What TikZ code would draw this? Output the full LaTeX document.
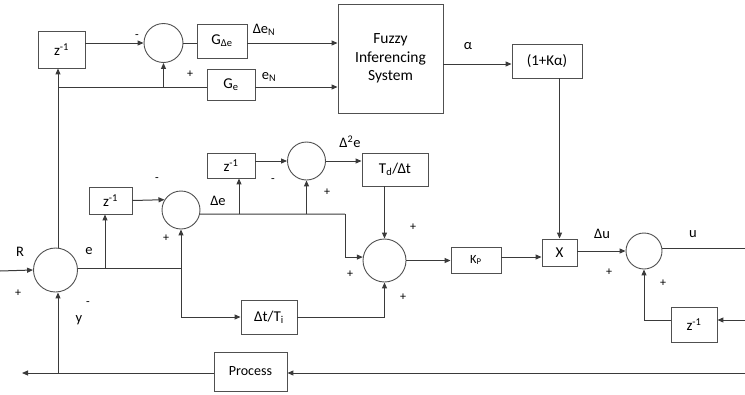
\documentclass[tikz,border=0pt]{standalone}
\usepackage{fontspec}
\setmainfont{Carlito}
\usetikzlibrary{arrows.meta}
\definecolor{linec}{HTML}{3A3A3A}
\definecolor{boxc}{HTML}{505050}
\tikzset{
  blk/.style={draw=boxc, line width=0.9pt, inner sep=0pt, font=\fontsize{15}{17}\selectfont, align=center},
  sumc/.style={circle, draw=boxc, line width=0.9pt, inner sep=0pt, minimum size=#1},
  ln/.style={draw=linec, line width=1pt},
  arr/.style={ln, -{Triangle[length=6pt,width=5pt]}},
  lab/.style={inner sep=0pt, font=\fontsize{14.5}{16}\selectfont},
  sgn/.style={inner sep=0pt, font=\fontsize{12}{14}\selectfont},
}
\begin{document}
\begin{tikzpicture}[x=1pt,y=-1pt]
\useasboundingbox (0,0) rectangle (745,394);
% ---- blocks ----
\node[blk, minimum width=47pt, minimum height=37pt] (zA) at (61.5,49.5) {z\textsuperscript{-1}};
\node[sumc=39pt] (sumT) at (163.5,43) {};
\node[blk, minimum width=50pt, minimum height=34pt] (GdE) at (222,41) {G\textsubscript{Δe}};
\node[blk, minimum width=48pt, minimum height=31pt] (Ge) at (231,85) {G\textsubscript{e}};
\node[blk, minimum width=105pt, minimum height=109pt, font=\fontsize{15.5}{18.5}\selectfont] (FIS) at (390.5,58.5) {Fuzzy\\Inferencing\\System};
\node[blk, minimum width=70pt, minimum height=34pt] (K1) at (547,61) {(1+Kα)};
\node[sumc=44pt] (S0) at (55.5,270) {};
\node[blk, minimum width=43pt, minimum height=27pt] (zB) at (110.5,200.5) {z\textsuperscript{-1}};
\node[sumc=38pt] (S1) at (181,210) {};
\node[blk, minimum width=48pt, minimum height=25pt] (zC) at (231,165.5) {z\textsuperscript{-1}};
\node[sumc=38pt] (S2) at (306.5,161) {};
\node[blk, minimum width=66pt, minimum height=33pt] (TdDt) at (395,169.5) {T\textsubscript{d}/Δt};
\node[sumc=43pt] (S3) at (384.5,260.5) {};
\node[blk, minimum width=56pt, minimum height=34pt] (DtTi) at (269,317) {Δt/T\textsubscript{i}};
\node[blk, minimum width=50pt, minimum height=26pt, font=\fontsize{12.5}{14}\selectfont] (KP) at (476,260) {K\textsubscript{P}};
\node[blk, minimum width=35pt, minimum height=27pt] (X) at (559.5,252.5) {X};
\node[sumc=36pt] (S4) at (644,251) {};
\node[blk, minimum width=46pt, minimum height=35pt] (zD) at (694,324.5) {z\textsuperscript{-1}};
\node[blk, minimum width=73pt, minimum height=39pt, font=\fontsize{14}{16}\selectfont] (Proc) at (250.5,371.5) {Process};
% ---- coordinates ----
\coordinate (j0) at (58,87);
\coordinate (inR) at (0,271);
\coordinate (je1) at (105,268);
\coordinate (je2) at (181,268);
\coordinate (jd1) at (239,214);
\coordinate (jd2) at (306.5,214);
\coordinate (jd3) at (345,214);
\coordinate (outU) at (745,248);
\coordinate (inZ) at (745,320);
\coordinate (inP) at (745,373);
\coordinate (outY) at (22,373);
\coordinate (jy) at (58,373);
% ---- top section ----
\draw[arr] (zA.east |- sumT) -- (sumT.west);
\draw[ln] (sumT.east) -- (GdE.west |- sumT);
\draw[arr] (GdE.east |- sumT) -- (FIS.west |- sumT);
\draw[ln] (j0) -- (Ge.west |- j0);
\draw[arr] (Ge.east |- j0) -- (FIS.west |- j0);
\draw[arr] (j0) -- (j0 |- zA.south);
\draw[arr] (sumT |- j0) -- (sumT.south);
\draw[ln] (j0) -- (j0 |- S0.north);
\draw[arr] (FIS.east |- 0,64) -- (K1.west |- 0,64);
\draw[arr] (X.north |- K1.south) -- (X.north);
% ---- PID section ----
\draw[arr] (inR) -- (S0.west);
\draw[ln] (S0.east |- je1) -- (je2);
\draw[arr] (je1) -- (je1 |- zB.south);
\draw[arr] (zB.east) -- (S1.148);
\draw[arr] (je2) -- (S1.south);
\draw[arr] (je2) |- (DtTi.west);
\draw[arr] (DtTi.east) -| (S3.south);
\draw[ln] (S1.-12) -- (jd3);
\draw[arr] (jd3) |- (S3.171);
\draw[arr] (jd1) -- (jd1 |- zC.south);
\draw[arr] (zC.east |- S2.west) -- (S2.west);
\draw[arr] (jd2) -- (S2.south);
\draw[arr] (S2.east) -- (TdDt.west |- S2.east);
\draw[arr] (S3.north |- TdDt.south) -- (S3.north);
\draw[arr] (S3.east) -- (KP.west |- S3.east);
\draw[arr] (KP.east |- 0,257) -- (X.west |- 0,257);
\draw[arr] (X.east |- S4.west) -- (S4.west);
\draw[ln] (S4.east |- outU) -- (outU);
\draw[arr] (inZ) -- (inZ -| zD.east);
\draw[arr] (zD.west |- inZ) -| (S4.south);
% ---- process loop ----
\draw[arr] (inP) -- (Proc.east |- inP);
\draw[arr] (Proc.west |- outY) -- (outY);
\draw[arr] (jy) -- (jy |- S0.south);
% ---- labels ----
\node[sgn] (m1) at (137,37) {-};
\node[sgn] (p1) at (190,74) {+};
\node[lab] (lDeN) at (264,30) {Δe\textsubscript{N}};
\node[lab] (leN) at (269,77) {e\textsubscript{N}};
\node[lab] (lal) at (468,46) {α};
\node[lab] (lR) at (20,252) {R};
\node[lab] (le) at (89,251) {e};
\node[sgn] (p0) at (18,293) {+};
\node[sgn] (m0) at (88,304) {-};
\node[lab] (ly) at (79,320) {y};
\node[sgn] (m2) at (157,180) {-};
\node[sgn] (p2) at (166,238) {+};
\node[lab] (lDe) at (218,201) {Δe};
\node[sgn] (m3) at (273,181) {-};
\node[sgn] (p3) at (327,192) {+};
\node[lab] (lD2e) at (350,142) {Δ\textsuperscript{2}e};
\node[sgn] (p4) at (413,227) {+};
\node[sgn] (p5) at (350,274) {+};
\node[sgn] (p6) at (403,297) {+};
\node[lab] (lDu) at (602,234) {Δu};
\node[sgn] (p7) at (609,272) {+};
\node[lab] (lu) at (693,234) {u};
\node[sgn] (p8) at (663,283) {+};
\end{tikzpicture}
\end{document}
